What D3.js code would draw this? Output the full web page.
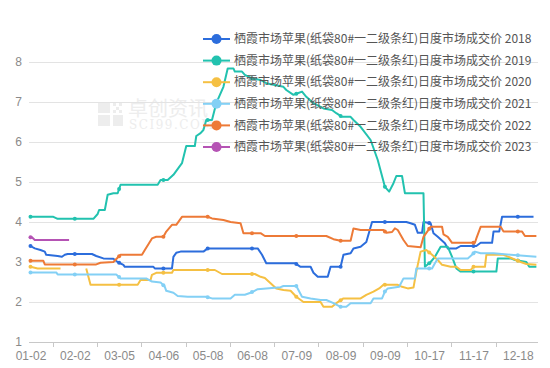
<!DOCTYPE html>
<html>
<head>
<meta charset="utf-8">
<script src="https://cdn.jsdelivr.net/npm/d3@7"></script>
<style>
  body { margin: 0; background: #fff; }
  svg { font-family: "Noto Sans CJK SC", "Noto Sans", sans-serif; }
</style>
</head>
<body>
<svg id="chart" width="550" height="368"></svg>
<script>
// x categories: one label every 31 trading-day categories
const dateLabels = ["01-02", "02-02", "03-05", "04-06", "05-08", "06-08", "07-09", "08-09", "09-09", "10-17", "11-17", "12-18"];
const labelStep = 31;
const yTicks = [1, 2, 3, 4, 5, 6, 7, 8];
const seriesName = "栖霞市场苹果(纸袋80#一二级条红)日度市场成交价";
const years = ["2018", "2019", "2020", "2021", "2022", "2023"];
const colors = ["#2c6ddc", "#22c2af", "#f5c043", "#83d0f5", "#ed7a37", "#b553b4"];

// [category index, price] (null = missing days)
const s2018 = [[0,3.4],[3,3.34],[7,3.3],[10,3.26],[11,3.18],[19,3.15],[22,3.13],[24,3.18],[26,3.2],[43,3.2],[46,3.15],[51,3.09],[58,3.08],[61,3.0],[65,2.93],[66,2.88],[86,2.88],[87,2.84],[99,2.84],[100,3.13],[102,3.23],[105,3.26],[121,3.26],[124,3.34],[159,3.34],[162,3.18],[165,2.97],[185,2.97],[189,2.88],[196,2.88],[198,2.73],[201,2.63],[208,2.63],[210,2.88],[217,2.88],[219,3.18],[224,3.22],[226,3.34],[231,3.38],[235,3.5],[239,4.0],[263,4.0],[266,3.97],[269,3.93],[271,3.73],[274,3.73],[275,4.0],[280,3.97],[282,3.72],[285,3.63],[290,3.47],[292,3.34],[298,3.34],[301,3.4],[312,3.4],[315,3.48],[323,3.48],[324,3.76],[328,3.76],[330,4.13],[352,4.13]];
const s2019 = [[0,4.13],[16,4.13],[19,4.08],[44,4.08],[47,4.2],[48,4.3],[52,4.3],[54,4.68],[58,4.72],[61,4.72],[63,4.93],[89,4.93],[91,5.05],[96,5.05],[100,5.18],[106,5.47],[109,5.9],[115,5.9],[116,6.15],[119,6.22],[121,6.3],[123,6.55],[127,6.55],[130,6.97],[135,7.38],[138,7.84],[142,7.84],[143,7.76],[148,7.76],[150,7.68],[155,7.59],[161,7.55],[165,7.47],[170,7.43],[177,7.38],[179,7.3],[184,7.18],[187,7.22],[190,7.26],[193,7.13],[198,6.97],[205,6.84],[211,6.8],[214,6.72],[218,6.63],[224,6.63],[226,6.55],[231,6.38],[238,6.05],[243,5.55],[248,4.88],[251,4.76],[254,4.97],[256,5.15],[260,5.15],[262,4.72],[275,4.72],[276,2.88],[280,3.0],[283,3.13],[287,3.38],[292,3.38],[295,3.13],[298,2.84],[301,2.76],[326,2.76],[327,3.09],[336,3.09],[339,3.05],[347,3.0],[349,2.88],[354,2.88]];
const s2020 = [[0,2.88],[5,2.84],[21,2.84],[22,null],[39,2.84],[42,2.43],[75,2.43],[77,2.55],[84,2.55],[85,2.68],[88,2.73],[99,2.73],[100,2.8],[129,2.8],[134,2.7],[157,2.7],[161,2.63],[164,2.6],[168,2.47],[172,2.34],[177,2.3],[182,2.28],[186,2.13],[191,2.0],[203,2.0],[205,1.88],[211,1.88],[214,1.97],[219,2.09],[231,2.09],[235,2.18],[240,2.26],[244,2.34],[247,2.43],[257,2.43],[260,2.38],[264,2.34],[268,2.36],[270,2.76],[273,3.26],[277,3.3],[281,3.18],[285,3.05],[288,2.93],[294,2.88],[298,2.88],[301,2.8],[308,2.8],[310,2.88],[318,2.88],[319,3.18],[331,3.18],[343,3.0],[347,2.95],[354,2.93]];
const s2021 = [[0,2.74],[18,2.74],[19,2.69],[60,2.69],[63,2.59],[81,2.59],[85,2.51],[91,2.49],[94,2.38],[95,2.28],[100,2.23],[103,2.15],[110,2.13],[123,2.13],[127,2.09],[140,2.09],[143,2.18],[150,2.18],[154,2.23],[159,2.32],[165,2.34],[175,2.37],[177,2.4],[186,2.4],[190,2.13],[196,2.09],[203,2.05],[207,2.05],[212,1.97],[217,1.88],[221,1.88],[224,1.97],[238,1.97],[240,2.09],[246,2.09],[248,2.26],[250,2.34],[258,2.38],[261,2.59],[269,2.59],[270,2.84],[281,2.84],[283,2.97],[285,3.09],[306,3.09],[309,3.18],[311,3.26],[315,3.22],[324,3.22],[336,3.18],[354,3.13]];
const s2022 = [[0,3.03],[9,3.03],[10,2.94],[46,2.94],[49,2.98],[58,3.0],[63,3.18],[78,3.18],[80,3.3],[85,3.59],[88,3.63],[93,3.63],[95,3.76],[99,3.93],[102,3.93],[106,4.13],[124,4.13],[127,4.09],[135,4.05],[140,4.0],[147,3.97],[149,3.72],[161,3.72],[164,3.65],[207,3.65],[212,3.57],[217,3.53],[224,3.53],[226,3.84],[231,3.8],[247,3.8],[249,3.73],[253,3.75],[255,3.84],[257,3.8],[261,3.55],[264,3.4],[273,3.37],[275,3.63],[280,3.88],[288,3.88],[289,3.69],[292,3.63],[295,3.48],[311,3.48],[312,3.59],[315,3.88],[329,3.88],[331,3.76],[344,3.76],[346,3.65],[354,3.65]];
const s2023 = [[0,3.62],[1,3.62],[3,3.55],[27,3.55]];
const allSeries = [s2018, s2019, s2020, s2021, s2022, s2023];

const svg = d3.select("#chart");
const plotLeft = 29, plotRight = 538, plotTop = 62, plotBottom = 342;

const x = d3.scaleLinear().domain([0, labelStep * 11]).range([30.5, 517.8]);
const y = d3.scaleLinear().domain([1, 8]).range([plotBottom, plotTop]);

// watermark
const wm = svg.append("g").attr("fill", "#ededed");
wm.append("rect").attr("x", 98).attr("y", 103).attr("width", 12).attr("height", 10);
wm.append("rect").attr("x", 98).attr("y", 115).attr("width", 12).attr("height", 11);
wm.append("rect").attr("x", 113).attr("y", 115).attr("width", 10).attr("height", 11);
[[113, 103], [119, 103], [116, 107], [113, 110], [119, 110]].forEach(p =>
  wm.append("rect").attr("x", p[0]).attr("y", p[1]).attr("width", 3).attr("height", 3));
wm.append("text").attr("x", 128).attr("y", 116).attr("font-size", 20).text("卓创资讯");
wm.append("text").attr("x", 129).attr("y", 129).attr("font-size", 12).attr("letter-spacing", 1.5)
  .attr("font-family", "DejaVu Serif, Liberation Serif, serif").text("SCI99.COM");

// y axis with gridlines
const yAxis = svg.append("g")
  .attr("transform", `translate(${plotLeft},0)`)
  .call(d3.axisLeft(y).tickValues(yTicks).tickSize(-(plotRight - plotLeft)).tickPadding(7).tickFormat(d3.format("d")));
yAxis.select(".domain").remove();
yAxis.selectAll(".tick line").attr("stroke", "#e3e3e3");
yAxis.selectAll(".tick text").attr("fill", "#8a8a8a").attr("font-size", 12);

// x axis: labels on categories, ticks between them
const xAxis = svg.append("g")
  .attr("transform", `translate(0,${plotBottom})`)
  .call(d3.axisBottom(x).tickValues(dateLabels.map((d, i) => i * labelStep))
    .tickFormat((d, i) => dateLabels[i]).tickSize(0).tickPadding(9));
xAxis.select(".domain").remove();
xAxis.selectAll(".tick text").attr("fill", "#8a8a8a").attr("font-size", 12);

svg.append("line").attr("x1", plotLeft).attr("x2", plotRight).attr("y1", plotBottom + 0.5).attr("y2", plotBottom + 0.5)
  .attr("stroke", "#c8c8c8");
svg.append("g").selectAll("line")
  .data(d3.range(0, 11).map(i => i * labelStep + labelStep / 2))
  .join("line")
  .attr("x1", d => Math.round(x(d)) + 0.5).attr("x2", d => Math.round(x(d)) + 0.5)
  .attr("y1", plotBottom).attr("y2", plotBottom + 5)
  .attr("stroke", "#c8c8c8");

// lines
const line = d3.line()
  .defined(d => d[1] != null)
  .x(d => x(d[0]))
  .y(d => y(d[1]));

function valueAt(data, t) {
  for (let i = 0; i < data.length - 1; i++) {
    const a = data[i], b = data[i + 1];
    if (t >= a[0] && t <= b[0]) {
      if (a[1] == null || b[1] == null) return null;
      return a[1] + (b[1] - a[1]) * (t - a[0]) / (b[0] - a[0]);
    }
  }
  return null;
}

allSeries.forEach((data, i) => {
  svg.append("path")
    .datum(data)
    .attr("fill", "none")
    .attr("stroke", colors[i])
    .attr("stroke-width", 2)
    .attr("stroke-linejoin", "round")
    .attr("d", line);
  const marks = dateLabels.map((d, k) => k * labelStep)
    .map(t => [t, valueAt(data, t)])
    .filter(d => d[1] != null);
  svg.append("g").selectAll("circle")
    .data(marks)
    .join("circle")
    .attr("cx", d => x(d[0]))
    .attr("cy", d => y(d[1]))
    .attr("r", 2)
    .attr("fill", colors[i]);
});

// legend
const legend = svg.append("g");
years.forEach((yr, i) => {
  const g = legend.append("g").attr("transform", `translate(203,${39 + i * 21.6})`);
  g.append("line").attr("x1", 0).attr("x2", 27).attr("stroke", colors[i]).attr("stroke-width", 2);
  g.append("circle").attr("cx", 13.5).attr("r", 5).attr("fill", colors[i]);
  g.append("text").attr("x", 31).attr("dy", "0.35em").attr("font-size", 12).attr("fill", "#555")
    .text(seriesName + " " + yr);
});
</script>
</body>
</html>
